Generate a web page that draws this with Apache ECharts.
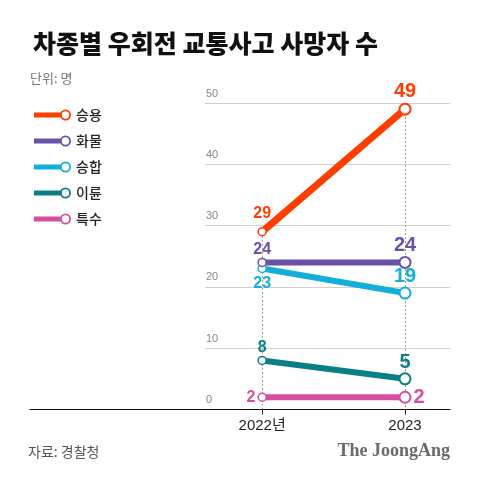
<!DOCTYPE html>
<html>
<head>
<meta charset="utf-8">
<script src="https://cdn.jsdelivr.net/npm/echarts@6/dist/echarts.min.js"></script>
<style>
  html, body { margin: 0; padding: 0; background: #fff; }
  #chart { width: 480px; height: 484px; }
</style>
</head>
<body>
<div id="chart"></div>
<script>
// ---- data ----
const categories = ['2022년', '2023'];
const seriesNames = ['승용', '화물', '승합', '이륜', '특수'];
const sedan = [29, 49];
const truck = [24, 24];
const van = [23, 19];
const motorcycle = [8, 5];
const special = [2, 2];
const yTicks = [0, 10, 20, 30, 40, 50];

// ---- styles ----
const FONT = "'Liberation Sans', 'Noto Sans CJK KR', sans-serif";
const KFONT = "'Noto Sans CJK KR', sans-serif";
const colors = ['#ff3d00', '#6a51a8', '#14aedb', '#0b7f88', '#d64f9e'];
const labelPos = [
  [['top', 5], ['top', 1]],
  [['top', 0], ['top', 0]],
  [['bottom', 2], ['top', 0]],
  [['top', 0], ['top', 0]],
  [['left', 2], ['right', 2]]
];
const symSize = [8, 11];
const symBorder = [1.5, 2];
const labelSize = [16, 20];

const allValues = [sedan, truck, van, motorcycle, special];

const legendIcon = 'path://M0 3L27 3L27 8L0 8Z' +
  'M26 5.5A5.5 5.5 0 1 1 37 5.5A5.5 5.5 0 1 1 26 5.5Z' +
  'M27.8 5.5A3.7 3.7 0 1 0 35.2 5.5A3.7 3.7 0 1 0 27.8 5.5Z';

const chart = echarts.init(document.getElementById('chart'), null, { renderer: 'canvas' });

const series = allValues.map((vals, si) => {
  const s = {
    name: seriesNames[si],
    type: 'line',
    xAxisIndex: 0,
    yAxisIndex: 0,
    color: colors[si],
    lineStyle: { width: si === 0 ? 7 : 6, color: colors[si], cap: 'round' },
    symbol: 'circle',
    z: 10 - si,
    data: vals.map((v, ci) => ({
      value: [ci, v],
      symbolSize: symSize[ci],
      itemStyle: { color: '#fff', borderColor: colors[si], borderWidth: symBorder[ci] },
      label: {
        show: true,
        position: labelPos[si][ci][0],
        distance: labelPos[si][ci][1],
        formatter: String(v),
        color: colors[si],
        fontFamily: FONT,
        fontWeight: 'bold',
        fontSize: labelSize[ci]
      }
    }))
  };
  if (si === 0) {
    s.markLine = {
      silent: true,
      symbol: 'none',
      z: 1,
      label: { show: false },
      lineStyle: { type: [2, 2], color: '#999', width: 1 },
      data: categories.map((c, ci) => {
        const top = Math.max(...allValues.map(a => a[ci]));
        return [{ coord: [ci, top] }, { coord: [ci, 0] }];
      })
    };
  }
  return s;
});

const option = {
  backgroundColor: '#fff',
  animation: false,
  title: {
    text: '차종별 우회전 교통사고 사망자 수',
    left: 28, top: 26,
    textStyle: { fontFamily: KFONT, fontWeight: 900, fontSize: 25, color: '#111' }
  },
  legend: {
    orient: 'vertical',
    left: 29, top: 103,
    itemWidth: 37, itemHeight: 11,
    itemGap: 12,
    icon: legendIcon,
    itemStyle: { borderWidth: 0 },
    textStyle: { fontFamily: KFONT, fontSize: 14, fontWeight: 500, color: '#222', lineHeight: 14 },
    data: seriesNames
  },
  grid: [
    { left: 205, right: 30, top: 103, height: 306.5, containLabel: false },
    { left: 30, right: 30, top: 103, height: 306.5, containLabel: false }
  ],
  xAxis: [
    {
      gridIndex: 0, type: 'value', min: -0.4, max: 1.315,
      axisLine: { show: false },
      splitLine: { show: false },
      axisTick: { show: true, customValues: [0, 1], length: 5, lineStyle: { color: '#222' } },
      axisLabel: {
        customValues: [0, 1], margin: 9,
        formatter: (v) => categories[Math.round(v)] || '',
        fontFamily: FONT, fontSize: 15, color: '#222'
      }
    },
    {
      gridIndex: 1, type: 'value', min: 0, max: 1,
      axisLine: { show: true, onZero: false, lineStyle: { color: '#111', width: 1.2 } },
      axisTick: { show: false }, axisLabel: { show: false }, splitLine: { show: false }
    }
  ],
  yAxis: [
    {
      gridIndex: 0, type: 'value', min: yTicks[0], max: yTicks[yTicks.length - 1], interval: 10,
      axisLine: { show: false }, axisTick: { show: false },
      splitLine: { show: true, lineStyle: { color: '#d0d0d0', width: 1 } },
      axisLabel: {
        inside: true, margin: 1, verticalAlign: 'bottom', padding: [0, 0, 4, 0],
        fontFamily: FONT, fontSize: 11, color: '#888'
      }
    },
    {
      gridIndex: 1, type: 'value', min: 0, max: 50, show: false
    }
  ],
  graphic: [
    { type: 'text', left: 30, top: 72, style: { text: '단위: 명', fontFamily: KFONT, fontSize: 13, fill: '#777' } },
    { type: 'text', left: 28, top: 445, style: { text: '자료: 경찰청', fontFamily: KFONT, fontSize: 14, fill: '#555' } },
    { type: 'text', right: 30, top: 442, style: { text: 'The JoongAng', fontFamily: "'Liberation Serif', 'DejaVu Serif', serif", fontWeight: 'bold', fontSize: 18, fill: '#6a6a6a' } }
  ],
  series: series
};

chart.setOption(option);
</script>
</body>
</html>
